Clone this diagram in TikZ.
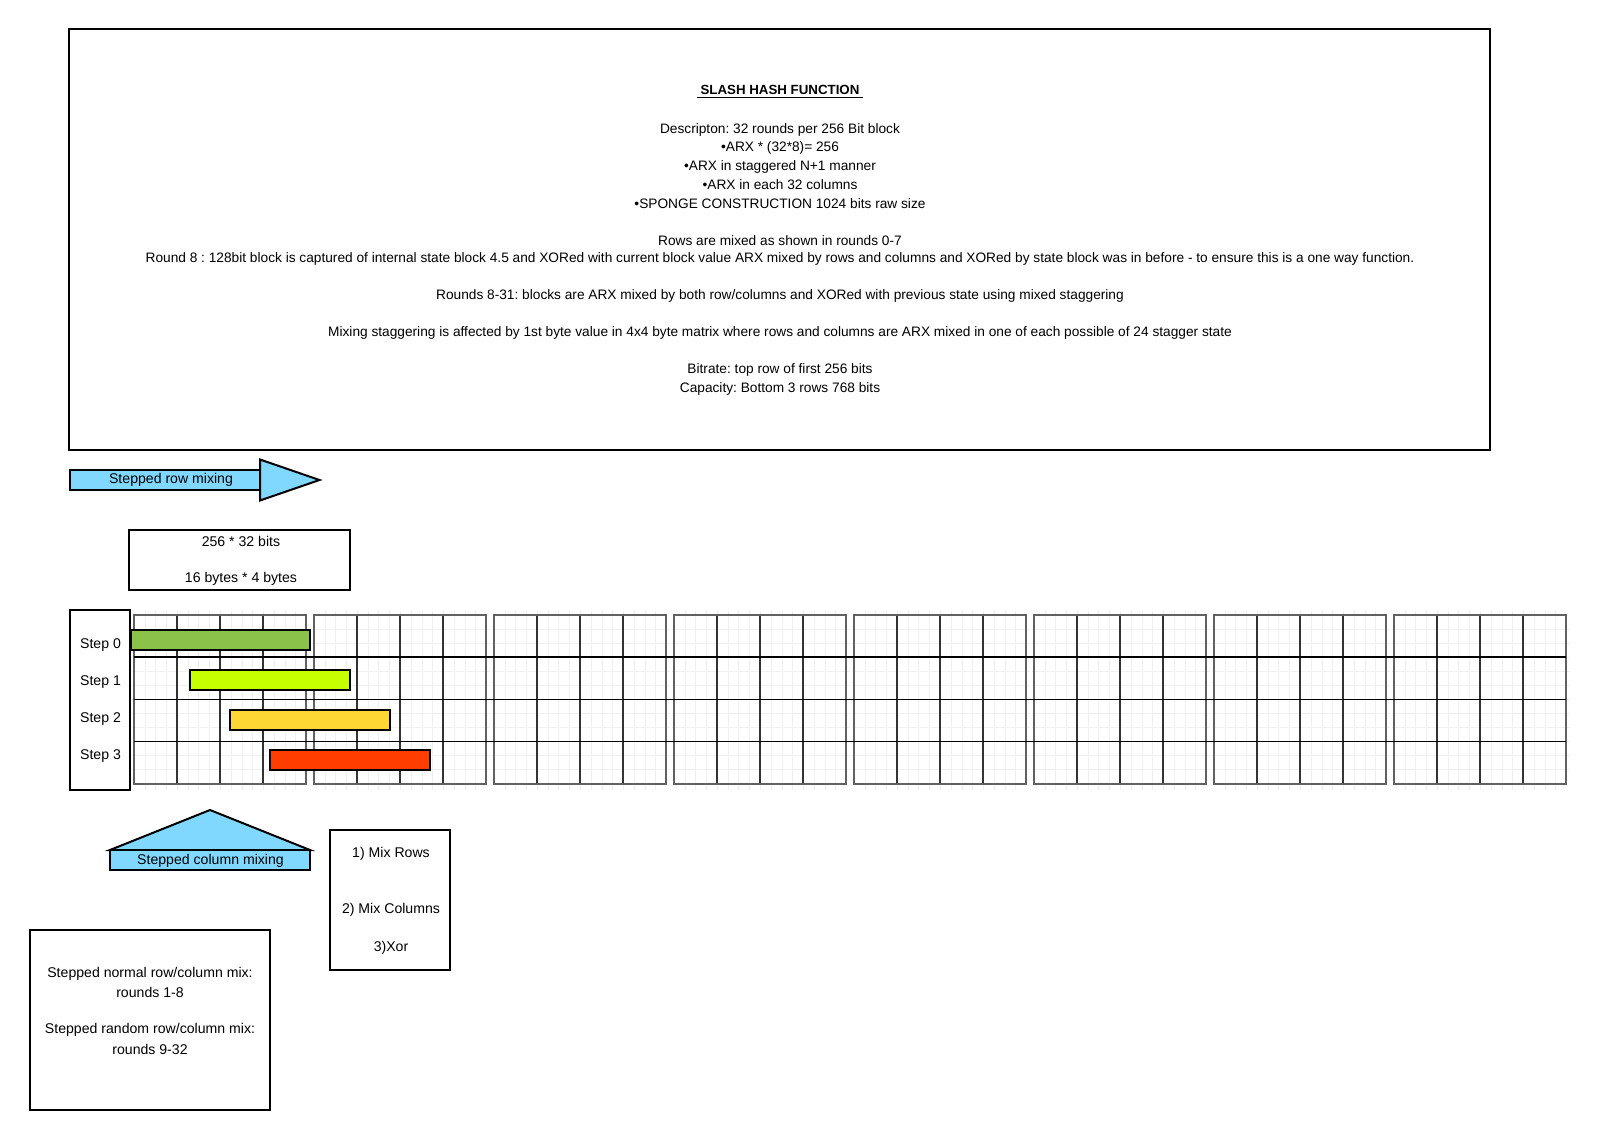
\documentclass[tikz,border=0pt]{standalone}
\usepackage{fontspec}
\setmainfont{Liberation Sans}
\frenchspacing
\begin{document}
\begin{tikzpicture}[x=1pt,y=-1pt,
  box/.style={draw=black,line width=2pt},
  body/.style={font=\fontsize{13.7}{15}\selectfont,inner sep=0pt,anchor=center},
  lbl/.style={font=\fontsize{14.1}{16}\selectfont,inner sep=0pt,anchor=center},
  mixshape/.style={draw=black,line width=2pt,fill=mixblue},
  faint/.style={draw=black!6,line width=0.5pt},
  colline/.style={draw=black!80,line width=2pt},
  blockedge/.style={draw=black!62,line width=2pt},
  rowline/.style={draw=black,line width=1.3pt},
  bar/.style={draw=black,line width=2pt}
]
\definecolor{mixblue}{HTML}{80D8FF}
\definecolor{stepgreen}{HTML}{8BC34A}
\definecolor{steplime}{HTML}{C6FF00}
\definecolor{stepyellow}{HTML}{FDD835}
\definecolor{stepred}{HTML}{FF3D00}

\path[use as bounding box,fill=white] (0,0) rectangle (1602,1140);

% description panel
\node[box,minimum width=1420.7pt,minimum height=420.7pt,inner sep=0pt] (desc) at (779.65,239.65) {};
\node[body,font=\fontsize{13.3}{15}\selectfont\bfseries] (title) at (780,90) {SLASH HASH FUNCTION};
\draw[line width=0.9pt] ([xshift=-3pt]title.south west |- 0,97) -- ([xshift=3pt]title.south east |- 0,97);
\node[body] (d1) at (780,129.5) {Descripton: 32 rounds per 256 Bit block};
\node[body] (d2) at (780,148) {•ARX * (32*8)= 256};
\node[body] (d3) at (780,166.5) {•ARX in staggered N+1 manner};
\node[body] (d4) at (780,185) {•ARX in each 32 columns};
\node[body] (d5) at (780,203.5) {•SPONGE CONSTRUCTION 1024 bits raw size};
\node[body] (d6) at (780,240.5) {Rows are mixed as shown in rounds 0-7};
\node[body] (d7) at (780,259) {Round 8 : 128bit block is captured of internal state block 4.5 and XORed with current block value ARX mixed by rows and columns and XORed by state block was in before - to ensure this is a one way function.};
\node[body] (d8) at (780,296) {Rounds 8-31: blocks are ARX mixed by both row/columns and XORed with previous state using mixed staggering};
\node[body] (d9) at (780,333) {Mixing staggering is affected by 1st byte value in 4x4 byte matrix where rows and columns are ARX mixed in one of each possible of 24 stagger state};
\node[body] (d10) at (780,370) {Bitrate: top row of first 256 bits};
\node[body] (d11) at (780,388.5) {Capacity: Bottom 3 rows 768 bits};

% stepped row mixing arrow
\draw[mixshape] (70,470) rectangle (260,490);
\draw[mixshape] (260,459.5) -- (319.5,480) -- (260,500.5) -- cycle;
\node[lbl] (rowmix) at (171,480) {Stepped row mixing};

% size box
\node[box,minimum width=220.7pt,minimum height=60pt,inner sep=0pt] (size) at (239.65,560) {};
\node[lbl] (size1) at (241,541.5) {256 * 32 bits};
\node[lbl] (size2) at (241,578.5) {16 bytes * 4 bytes};

% state blocks: faint background grid
\foreach \k in {0,...,7}{
  \pgfmathsetmacro{\xa}{134+180*\k}
  \foreach \i in {1,...,15}{
    \draw[faint] ({\xa+10.775*\i},611) -- ({\xa+10.775*\i},790);
  }
  \foreach \j in {1,...,11}{
    \draw[faint] ({\xa-2},{614.7+14.08*\j}) -- ({\xa+176},{614.7+14.08*\j});
  }
}
% state blocks: columns and outlines
\foreach \k in {0,...,7}{
  \pgfmathsetmacro{\xa}{134+180*\k}
  \foreach \i in {1,2,3}{
    \draw[colline] ({\xa+43.1*\i},614.7) -- ({\xa+43.1*\i},783.7);
  }
  \draw[blockedge] (\xa,614.7) rectangle ({\xa+172.4},783.7);
}
% row separators run across all blocks
\foreach \y in {657,699.2,741.5}{
  \draw[rowline] (134,\y) -- (1566.4,\y);
}

% step labels
\node[box,minimum width=60pt,minimum height=180pt,inner sep=0pt] (steps) at (100,700) {};
\node[lbl] (s0) at (100.5,645) {Step 0};
\node[lbl] (s1) at (100.5,682) {Step 1};
\node[lbl] (s2) at (100.5,719) {Step 2};
\node[lbl] (s3) at (100.5,756) {Step 3};

% staggered mixing bars
\draw[bar,fill=stepgreen] (130.7,630) rectangle (310,650);
\draw[bar,fill=steplime] (190,670) rectangle (350,690);
\draw[bar,fill=stepyellow] (230,710) rectangle (390,730);
\draw[bar,fill=stepred] (270,750) rectangle (430,770);

% stepped column mixing arrow
\draw[mixshape] (110,850) -- (210,810) -- (310,850) -- cycle;
\draw[mixshape] (110,850) rectangle (310,870);
\node[lbl] (colmix) at (210.5,860.5) {Stepped column mixing};

% operation order box
\node[box,minimum width=120pt,minimum height=140pt,inner sep=0pt] (ops) at (390,900) {};
\node[lbl] (op1) at (391,854) {1) Mix Rows};
\node[lbl] (op2) at (391,910) {2) Mix Columns};
\node[lbl] (op3) at (391,947.5) {3)Xor};

% rounds box
\node[box,minimum width=240pt,minimum height=180pt,inner sep=0pt] (rounds) at (150,1020) {};
\node[lbl] (r1) at (150,974) {Stepped normal row/column mix:};
\node[lbl] (r2) at (150,992.5) {rounds 1-8};
\node[lbl] (r3) at (150,1030) {Stepped random row/column mix:};
\node[lbl] (r4) at (150,1049) {rounds 9-32};
\end{tikzpicture}
\end{document}
